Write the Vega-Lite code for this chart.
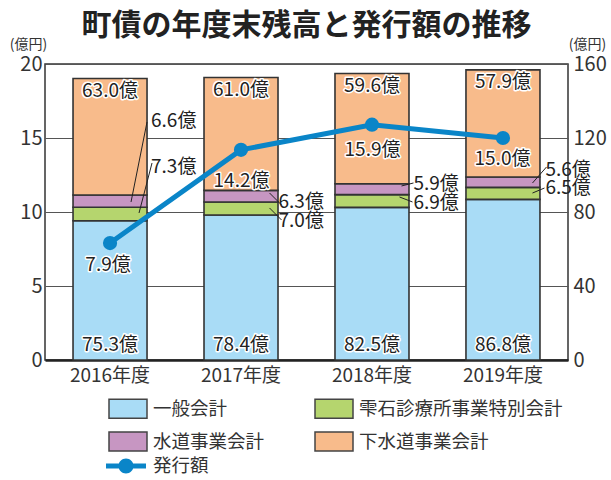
{
  "$schema": "https://vega.github.io/schema/vega-lite/v6.json",
  "width": 523,
  "height": 296,
  "autosize": {"type": "none"},
  "padding": {"left": 45, "top": 64, "right": 43, "bottom": 120},
  "config": {
    "font": "Noto Sans CJK JP",
    "view": {"stroke": "#333", "strokeWidth": 1.5},
    "axis": {"labelFont": "Noto Sans CJK JP", "labelColor": "#333", "titleFont": "Noto Sans CJK JP", "titleColor": "#333", "titleFontWeight": "normal"},
    "legend": {"labelFont": "Noto Sans CJK JP", "labelColor": "#333"},
    "locale": {"number": {"decimal": ".", "thousands": ",", "grouping": [3], "currency": ["", "億"]}}
  },
  "title": {"text": "町債の年度末残高と発行額の推移", "fontSize": 30, "fontWeight": "bold", "color": "#222", "anchor": "middle", "offset": -1, "dy": 3, "font": "Noto Sans CJK JP"},
  "datasets": {
    "debt": [
      {"year": "2016年度", "cat": "一般会計", "value": 75.3},
      {"year": "2016年度", "cat": "雫石診療所事業特別会計", "value": 7.3},
      {"year": "2016年度", "cat": "水道事業会計", "value": 6.6},
      {"year": "2016年度", "cat": "下水道事業会計", "value": 63.0},
      {"year": "2017年度", "cat": "一般会計", "value": 78.4},
      {"year": "2017年度", "cat": "雫石診療所事業特別会計", "value": 7.0},
      {"year": "2017年度", "cat": "水道事業会計", "value": 6.3},
      {"year": "2017年度", "cat": "下水道事業会計", "value": 61.0},
      {"year": "2018年度", "cat": "一般会計", "value": 82.5},
      {"year": "2018年度", "cat": "雫石診療所事業特別会計", "value": 6.9},
      {"year": "2018年度", "cat": "水道事業会計", "value": 5.9},
      {"year": "2018年度", "cat": "下水道事業会計", "value": 59.6},
      {"year": "2019年度", "cat": "一般会計", "value": 86.8},
      {"year": "2019年度", "cat": "雫石診療所事業特別会計", "value": 6.5},
      {"year": "2019年度", "cat": "水道事業会計", "value": 5.6},
      {"year": "2019年度", "cat": "下水道事業会計", "value": 57.9}
    ],
    "catorder": [
      {"cat": "一般会計", "rank": 1},
      {"cat": "雫石診療所事業特別会計", "rank": 2},
      {"cat": "水道事業会計", "rank": 3},
      {"cat": "下水道事業会計", "rank": 4}
    ],
    "issue": [
      {"year": "2016年度", "issue": 7.9},
      {"year": "2017年度", "issue": 14.2},
      {"year": "2018年度", "issue": 15.9},
      {"year": "2019年度", "issue": 15.0}
    ]
  },
  "encoding": {
    "x": {
      "field": "year", "type": "nominal",
      "scale": {"paddingInner": 0.435, "paddingOuter": 0.214},
      "axis": {"title": null, "labelAngle": 0, "labelFontSize": 19, "labelPadding": 6, "ticks": false, "domainColor": "#222", "domainWidth": 2.5}
    }
  },
  "layer": [
    {
      "data": {"name": "debt"},
      "transform": [
        {"lookup": "cat", "from": {"data": {"name": "catorder"}, "key": "cat", "fields": ["rank"]}},
        {"joinaggregate": [{"op": "sum", "field": "value", "as": "total"}, {"op": "max", "field": "value", "as": "base"}], "groupby": ["year"]}
      ],
      "layer": [
        {
          "mark": {"type": "bar", "stroke": "#333", "strokeWidth": 1.6},
          "encoding": {
            "y": {
              "field": "value", "type": "quantitative", "stack": "zero",
              "scale": {"domain": [0, 160], "nice": false},
              "axis": {"orient": "right", "values": [0, 40, 80, 120, 160], "grid": true, "gridColor": "#555", "gridWidth": 1, "ticks": false, "domain": false, "labelFontSize": 20, "labelPadding": 5, "title": "(億円)", "titleAngle": 0, "titleX": 19, "titleY": -20, "titleAlign": "center", "titleBaseline": "middle", "titleFontSize": 14}
            },
            "order": {"field": "rank", "type": "quantitative", "sort": "ascending"},
            "fill": {
              "field": "cat", "type": "nominal",
              "sort": ["一般会計", "雫石診療所事業特別会計", "水道事業会計", "下水道事業会計"],
              "scale": {"domain": ["一般会計", "雫石診療所事業特別会計", "水道事業会計", "下水道事業会計"], "range": ["#a9dcf6", "#b5d56e", "#c796c2", "#f8bb8b"]},
              "legend": {"orient": "none", "legendX": 63, "legendY": 324.5, "direction": "horizontal", "columns": 2, "title": null, "symbolType": "M-1,-0.5H1V0.5H-1Z", "symbolSize": 1444, "symbolStrokeColor": "#444", "symbolStrokeWidth": 1.5, "symbolOpacity": 1, "labelFontSize": 18.5, "labelLimit": 400, "labelOffset": 5, "columnPadding": 47, "rowPadding": -5, "padding": 0}
            }
          }
        },
        {
          "transform": [{"filter": "datum.cat == '一般会計'"}],
          "mark": {"type": "text", "baseline": "middle", "dy": -15, "fontSize": 19, "fill": "white", "stroke": "white", "strokeWidth": 3, "strokeJoin": "round"},
          "encoding": {"y": {"datum": 0, "type": "quantitative"}, "text": {"field": "value", "type": "quantitative", "format": "$.1f"}}
        },
        {
          "transform": [{"filter": "datum.cat == '一般会計'"}],
          "mark": {"type": "text", "baseline": "middle", "dy": -15, "fontSize": 19, "fill": "#222"},
          "encoding": {"y": {"datum": 0, "type": "quantitative"}, "text": {"field": "value", "type": "quantitative", "format": "$.1f"}}
        },
        {
          "transform": [{"filter": "datum.cat == '下水道事業会計'"}],
          "mark": {"type": "text", "baseline": "middle", "dy": 12.5, "fontSize": 19, "fill": "white", "stroke": "white", "strokeWidth": 3, "strokeJoin": "round"},
          "encoding": {"y": {"field": "total", "type": "quantitative"}, "text": {"field": "value", "type": "quantitative", "format": "$.1f"}}
        },
        {
          "transform": [{"filter": "datum.cat == '下水道事業会計'"}],
          "mark": {"type": "text", "baseline": "middle", "dy": 12.5, "fontSize": 19, "fill": "#222"},
          "encoding": {"y": {"field": "total", "type": "quantitative"}, "text": {"field": "value", "type": "quantitative", "format": "$.1f"}}
        },
        {
          "transform": [{"filter": "datum.year == '2016年度' && datum.cat == '水道事業会計'"}],
          "encoding": {"y": {"field": "base", "type": "quantitative"}},
          "layer": [
            {"mark": {"type": "rule", "color": "#222", "strokeWidth": 1, "xOffset": 37, "yOffset": -98.7, "x2Offset": 21, "y2Offset": -18.7}, "encoding": {"x2": {"field": "year"}, "y2": {"field": "base"}}},
            {"mark": {"type": "text", "align": "left", "baseline": "middle", "dx": 41, "dy": -99.7, "fontSize": 19, "fill": "#222"}, "encoding": {"text": {"field": "value", "type": "quantitative", "format": "$.1f"}}}
          ]
        },
        {
          "transform": [{"filter": "datum.year == '2016年度' && datum.cat == '雫石診療所事業特別会計'"}],
          "encoding": {"y": {"field": "base", "type": "quantitative"}},
          "layer": [
            {"mark": {"type": "rule", "color": "#222", "strokeWidth": 1, "xOffset": 42, "yOffset": -57.7, "x2Offset": 29, "y2Offset": -7.7}, "encoding": {"x2": {"field": "year"}, "y2": {"field": "base"}}},
            {"mark": {"type": "text", "align": "left", "baseline": "middle", "dx": 41, "dy": -53.7, "fontSize": 19, "fill": "#222"}, "encoding": {"text": {"field": "value", "type": "quantitative", "format": "$.1f"}}}
          ]
        },
        {
          "transform": [{"filter": "datum.year == '2017年度' && datum.cat == '水道事業会計'"}],
          "encoding": {"y": {"field": "base", "type": "quantitative"}},
          "layer": [
            {"mark": {"type": "rule", "color": "#222", "strokeWidth": 1, "xOffset": 40.5, "yOffset": -10, "x2Offset": 28.5, "y2Offset": -22}, "encoding": {"x2": {"field": "year"}, "y2": {"field": "base"}}},
            {"mark": {"type": "text", "align": "left", "baseline": "middle", "dx": 37.5, "dy": -13, "fontSize": 19, "fill": "#222"}, "encoding": {"text": {"field": "value", "type": "quantitative", "format": "$.1f"}}}
          ]
        },
        {
          "transform": [{"filter": "datum.year == '2017年度' && datum.cat == '雫石診療所事業特別会計'"}],
          "encoding": {"y": {"field": "base", "type": "quantitative"}},
          "layer": [
            {"mark": {"type": "rule", "color": "#222", "strokeWidth": 1, "xOffset": 40.5, "yOffset": 5, "x2Offset": 28.5, "y2Offset": -7}, "encoding": {"x2": {"field": "year"}, "y2": {"field": "base"}}},
            {"mark": {"type": "text", "align": "left", "baseline": "middle", "dx": 37.5, "dy": 6, "fontSize": 19, "fill": "#222"}, "encoding": {"text": {"field": "value", "type": "quantitative", "format": "$.1f"}}}
          ]
        },
        {
          "transform": [{"filter": "datum.year == '2018年度' && datum.cat == '水道事業会計'"}],
          "encoding": {"y": {"field": "base", "type": "quantitative"}},
          "layer": [
            {"mark": {"type": "rule", "color": "#222", "strokeWidth": 1, "xOffset": 41.5, "yOffset": -24.4, "x2Offset": 29.5, "y2Offset": -21.4}, "encoding": {"x2": {"field": "year"}, "y2": {"field": "base"}}},
            {"mark": {"type": "text", "align": "left", "baseline": "middle", "dx": 41.5, "dy": -23.4, "fontSize": 19, "fill": "#222"}, "encoding": {"text": {"field": "value", "type": "quantitative", "format": "$.1f"}}}
          ]
        },
        {
          "transform": [{"filter": "datum.year == '2018年度' && datum.cat == '雫石診療所事業特別会計'"}],
          "encoding": {"y": {"field": "base", "type": "quantitative"}},
          "layer": [
            {"mark": {"type": "rule", "color": "#222", "strokeWidth": 1, "xOffset": 40.5, "yOffset": -5.4, "x2Offset": 27.5, "y2Offset": -10.4}, "encoding": {"x2": {"field": "year"}, "y2": {"field": "base"}}},
            {"mark": {"type": "text", "align": "left", "baseline": "middle", "dx": 41.5, "dy": -4.4, "fontSize": 19, "fill": "#222"}, "encoding": {"text": {"field": "value", "type": "quantitative", "format": "$.1f"}}}
          ]
        },
        {
          "transform": [{"filter": "datum.year == '2019年度' && datum.cat == '水道事業会計'"}],
          "encoding": {"y": {"field": "base", "type": "quantitative"}},
          "layer": [
            {"mark": {"type": "rule", "color": "#222", "strokeWidth": 1, "xOffset": 43.5, "yOffset": -32.4, "x2Offset": 29.5, "y2Offset": -16.4}, "encoding": {"x2": {"field": "year"}, "y2": {"field": "base"}}},
            {"mark": {"type": "text", "align": "left", "baseline": "middle", "dx": 42.5, "dy": -29.4, "fontSize": 19, "fill": "#222"}, "encoding": {"text": {"field": "value", "type": "quantitative", "format": "$.1f"}}}
          ]
        },
        {
          "transform": [{"filter": "datum.year == '2019年度' && datum.cat == '雫石診療所事業特別会計'"}],
          "encoding": {"y": {"field": "base", "type": "quantitative"}},
          "layer": [
            {"mark": {"type": "rule", "color": "#222", "strokeWidth": 1, "xOffset": 41.5, "yOffset": -11.4, "x2Offset": 29.5, "y2Offset": -6.4}, "encoding": {"x2": {"field": "year"}, "y2": {"field": "base"}}},
            {"mark": {"type": "text", "align": "left", "baseline": "middle", "dx": 42.5, "dy": -11.4, "fontSize": 19, "fill": "#222"}, "encoding": {"text": {"field": "value", "type": "quantitative", "format": "$.1f"}}}
          ]
        }
      ]
    },
    {
      "data": {"name": "issue"},
      "layer": [
        {
          "mark": {"type": "line", "strokeWidth": 5},
          "encoding": {
            "y": {
              "field": "issue", "type": "quantitative",
              "scale": {"domain": [0, 20], "nice": false},
              "axis": {"orient": "left", "values": [0, 5, 10, 15, 20], "grid": false, "ticks": false, "domain": false, "labelFontSize": 20, "labelPadding": 3, "title": "(億円)", "titleAngle": 0, "titleX": -17, "titleY": -20, "titleAlign": "center", "titleBaseline": "middle", "titleFontSize": 14}
            },
            "stroke": {
              "datum": "発行額", "type": "nominal",
              "scale": {"range": ["#0a85c8"]},
              "legend": {"orient": "none", "legendX": 61, "legendY": 382, "title": null, "symbolType": "M-1,-0.125H1V0.125H-1Z M-0.375,0A0.375,0.375,0,1,1,0.375,0A0.375,0.375,0,1,1,-0.375,0Z", "symbolSize": 1600, "symbolFillColor": "#0a85c8", "symbolStrokeWidth": 0, "labelFontSize": 18.5, "labelOffset": 7, "padding": 0,
                "encode": {"symbols": {"update": {"fill": {"value": "#0a85c8"}, "strokeWidth": {"value": 0}}}}}
            }
          }
        },
        {
          "mark": {"type": "point", "filled": true, "size": 201, "color": "#0a85c8", "opacity": 1},
          "encoding": {"y": {"field": "issue", "type": "quantitative"}}
        },
        {
          "transform": [{"filter": "datum.year == '2016年度'"}],
          "encoding": {"y": {"field": "issue", "type": "quantitative"}, "text": {"field": "issue", "type": "quantitative", "format": "$.1f"}},
          "layer": [
            {"mark": {"type": "text", "baseline": "middle", "dx": -2, "dy": 22, "fontSize": 19, "fill": "white", "stroke": "white", "strokeWidth": 3, "strokeJoin": "round"}},
            {"mark": {"type": "text", "baseline": "middle", "dx": -2, "dy": 22, "fontSize": 19, "fill": "#222"}}
          ]
        },
        {
          "transform": [{"filter": "datum.year == '2017年度'"}],
          "encoding": {"y": {"field": "issue", "type": "quantitative"}, "text": {"field": "issue", "type": "quantitative", "format": "$.1f"}},
          "layer": [
            {"mark": {"type": "text", "baseline": "middle", "dx": 0.5, "dy": 31, "fontSize": 19, "fill": "white", "stroke": "white", "strokeWidth": 3, "strokeJoin": "round"}},
            {"mark": {"type": "text", "baseline": "middle", "dx": 0.5, "dy": 31, "fontSize": 19, "fill": "#222"}}
          ]
        },
        {
          "transform": [{"filter": "datum.year == '2018年度'"}],
          "encoding": {"y": {"field": "issue", "type": "quantitative"}, "text": {"field": "issue", "type": "quantitative", "format": "$.1f"}},
          "layer": [
            {"mark": {"type": "text", "baseline": "middle", "dx": 0.5, "dy": 25, "fontSize": 19, "fill": "white", "stroke": "white", "strokeWidth": 3, "strokeJoin": "round"}},
            {"mark": {"type": "text", "baseline": "middle", "dx": 0.5, "dy": 25, "fontSize": 19, "fill": "#222"}}
          ]
        },
        {
          "transform": [{"filter": "datum.year == '2019年度'"}],
          "encoding": {"y": {"field": "issue", "type": "quantitative"}, "text": {"field": "issue", "type": "quantitative", "format": "$.1f"}},
          "layer": [
            {"mark": {"type": "text", "baseline": "middle", "dx": -0.5, "dy": 20.5, "fontSize": 19, "fill": "white", "stroke": "white", "strokeWidth": 3, "strokeJoin": "round"}},
            {"mark": {"type": "text", "baseline": "middle", "dx": -0.5, "dy": 20.5, "fontSize": 19, "fill": "#222"}}
          ]
        }
      ]
    }
  ],
  "resolve": {"scale": {"y": "independent"}}
}
